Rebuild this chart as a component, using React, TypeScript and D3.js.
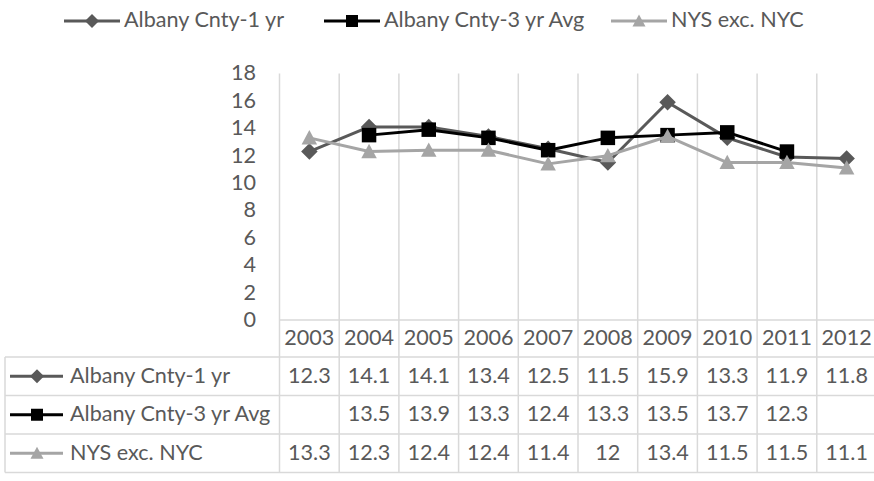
import React from 'react';
import * as d3 from 'd3';

const years = ['2003', '2004', '2005', '2006', '2007', '2008', '2009', '2010', '2011', '2012'];
const albany1yr: (number | null)[] = [12.3, 14.1, 14.1, 13.4, 12.5, 11.5, 15.9, 13.3, 11.9, 11.8];
const albany3yr: (number | null)[] = [null, 13.5, 13.9, 13.3, 12.4, 13.3, 13.5, 13.7, 12.3, null];
const nysExNyc: (number | null)[] = [13.3, 12.3, 12.4, 12.4, 11.4, 12, 13.4, 11.5, 11.5, 11.1];
const yTicks = [0, 2, 4, 6, 8, 10, 12, 14, 16, 18];
const seriesNames = ['Albany Cnty-1 yr', 'Albany Cnty-3 yr Avg', 'NYS exc. NYC'];

const W = 874;
const H = 481;
const FONT = 'Lato, "Open Sans", sans-serif';
const FS = 21.6;
const TXT = '#595959';
const GRID = '#d9d9d9';

const series = [
  { name: seriesNames[0], values: albany1yr, color: '#595959', marker: 'diamond' },
  { name: seriesNames[1], values: albany3yr, color: '#000000', marker: 'square' },
  { name: seriesNames[2], values: nysExNyc, color: '#a5a5a5', marker: 'triangle' },
];

function Marker({ type, x, y, s, color }: { type: string; x: number; y: number; s: number; color: string }) {
  if (type === 'diamond') {
    const h = s / 2 + 0.5;
    return <path d={`M${x},${y - h}L${x + h},${y}L${x},${y + h}L${x - h},${y}Z`} fill={color} />;
  }
  if (type === 'square') {
    const h = s / 2 - 0.5;
    return <rect x={x - h} y={y - h} width={2 * h} height={2 * h} fill={color} />;
  }
  const h = s / 2;
  return <path d={`M${x},${y - h}L${x + h},${y + h * 0.85}L${x - h},${y + h * 0.85}Z`} fill={color} />;
}

export default function App() {
  const plotLeft = 279.5;
  const colW = 59.7;
  const x = d3.scaleBand<string>().domain(years).range([plotLeft, plotLeft + colW * years.length]).padding(0);
  const y = d3.scaleLinear().domain([0, 18]).range([320, 73.5]);
  const rowEdges = [320, 357, 395.5, 434, 472.5];
  const tableLeft = 5;

  const line = d3
    .line<number | null>()
    .defined((d) => d !== null)
    .x((_, i) => (x(years[i]) as number) + x.bandwidth() / 2)
    .y((d) => y(d as number));

  const legendX = [64, 324, 611];
  const legendY = 21;

  return (
    <svg
      width={W}
      height={H}
      style={{ position: 'absolute', left: 0, top: 0, background: '#fff' }}
      fontFamily={FONT}
    >
      <rect x={0} y={0} width={W} height={H} fill="#fff" />
      {/* top legend */}
      {series.map((s, i) => (
        <g key={s.name}>
          <line x1={legendX[i]} x2={legendX[i] + 56} y1={legendY} y2={legendY} stroke={s.color} strokeWidth={3} />
          <Marker type={s.marker} x={legendX[i] + 28} y={legendY} s={13} color={s.color} />
          <text x={legendX[i] + 60} y={legendY + 1} dominantBaseline="middle" fontSize={FS} fill={TXT}>
            {s.name}
          </text>
        </g>
      ))}

      {/* y axis labels */}
      {yTicks.map((t) => (
        <text key={t} x={256} y={y(t) + 1.5} textAnchor="end" dominantBaseline="middle" fontSize={FS} fill={TXT}>
          {t}
        </text>
      ))}

      {/* vertical grid / column borders */}
      {d3.range(years.length + 1).map((k) => {
        const xx = plotLeft + colW * k;
        if (xx > W) return null;
        return <line key={k} x1={xx} x2={xx} y1={73.5} y2={rowEdges[4]} stroke={GRID} strokeWidth={1.5} />;
      })}
      {/* table horizontal lines */}
      <line x1={plotLeft} x2={W} y1={rowEdges[0]} y2={rowEdges[0]} stroke={GRID} strokeWidth={1.5} />
      {rowEdges.slice(1).map((ry) => (
        <line key={ry} x1={tableLeft} x2={W} y1={ry} y2={ry} stroke={GRID} strokeWidth={1.5} />
      ))}
      <line x1={tableLeft} x2={tableLeft} y1={rowEdges[1]} y2={rowEdges[4]} stroke={GRID} strokeWidth={1.5} />

      {/* header years */}
      {years.map((yr) => (
        <text
          key={yr}
          x={(x(yr) as number) + x.bandwidth() / 2}
          y={(rowEdges[0] + rowEdges[1]) / 2 + 1}
          textAnchor="middle"
          dominantBaseline="middle"
          fontSize={FS}
          fill={TXT}
        >
          {yr}
        </text>
      ))}

      {/* table rows */}
      {series.map((s, i) => {
        const cy = (rowEdges[i + 1] + rowEdges[i + 2]) / 2;
        return (
          <g key={s.name}>
            <line x1={10} x2={63} y1={cy} y2={cy} stroke={s.color} strokeWidth={3} />
            <Marker type={s.marker} x={37} y={cy} s={13} color={s.color} />
            <text x={70} y={cy + 1} dominantBaseline="middle" fontSize={FS} fill={TXT}>
              {s.name}
            </text>
            {s.values.map((v, j) =>
              v === null ? null : (
                <text
                  key={j}
                  x={(x(years[j]) as number) + x.bandwidth() / 2}
                  y={cy + 1}
                  textAnchor="middle"
                  dominantBaseline="middle"
                  fontSize={FS}
                  fill={TXT}
                >
                  {String(v)}
                </text>
              )
            )}
          </g>
        );
      })}

      {/* series lines and markers */}
      {series.map((s) => (
        <g key={s.name}>
          <path d={line(s.values) || ''} fill="none" stroke={s.color} strokeWidth={3} strokeLinejoin="round" />
          {s.values.map((v, j) =>
            v === null ? null : (
              <Marker
                key={j}
                type={s.marker}
                x={(x(years[j]) as number) + x.bandwidth() / 2}
                y={y(v)}
                s={15.5}
                color={s.color}
              />
            )
          )}
        </g>
      ))}
    </svg>
  );
}
